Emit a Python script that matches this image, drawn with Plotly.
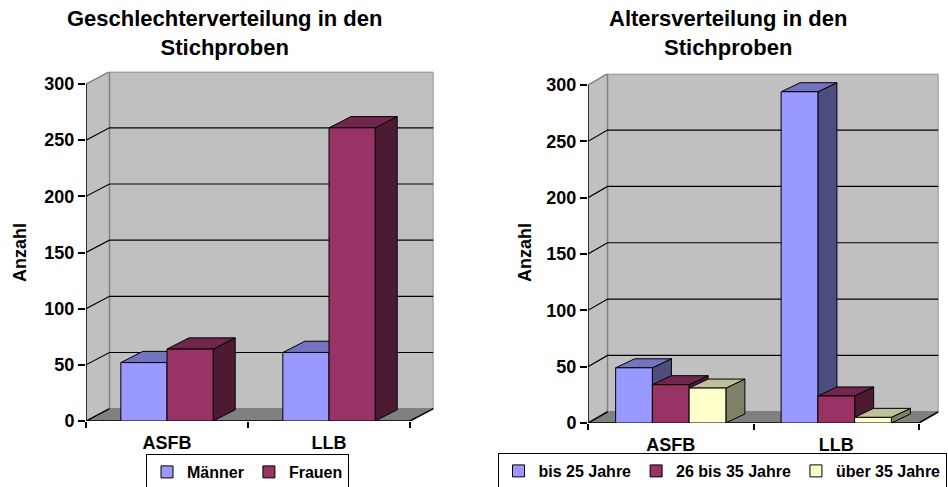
import plotly.graph_objects as go

# ---------------- data ----------------
categories = ["ASFB", "LLB"]
gender_names = ["Männer", "Frauen"]
gender_values = [[52, 61], [64, 261]]
age_names = ["bis 25 Jahre", "26 bis 35 Jahre", "über 35 Jahre"]
age_values = [[49, 294], [34, 24], [31, 5]]
y_ticks = [0, 50, 100, 150, 200, 250, 300]
title_left = "Geschlechterverteilung in den<br>Stichproben"
title_right = "Altersverteilung in den<br>Stichproben"
y_title = "Anzahl"

# ---------------- styles ----------------
FONT = "Liberation Sans, Arial, sans-serif"
WALL = "#C0C0C0"
WALL_EDGE = "#808080"
FLOOR = "#808080"
gender_colors = [("#9999FF", "#7373BF", "#4D4D80"), ("#993366", "#73264D", "#4D1A33")]
age_colors = [("#9999FF", "#7373BF", "#4D4D80"), ("#993366", "#73264D", "#4D1A33"),
              ("#FFFFCC", "#BFBF99", "#808066")]

fig = go.Figure()


def poly(xs, ys, fill, xa, ya, line_color="black", line_width=1):
    fig.add_trace(go.Scatter(
        x=xs + [xs[0]], y=ys + [ys[0]], mode="lines", fill="toself", fillcolor=fill,
        line=dict(color=line_color, width=line_width), hoverinfo="skip", showlegend=False,
        xaxis=xa, yaxis=ya))


def lines(xs, ys, color, width, xa, ya):
    fig.add_trace(go.Scatter(x=xs, y=ys, mode="lines", line=dict(color=color, width=width),
                             hoverinfo="skip", showlegend=False, xaxis=xa, yaxis=ya))


def panel(names, values, colors, xa, ya, xo, yo, legend, bar_w, wdx, wdy, bdx, bdy):
    n_cat = len(categories)
    ytop = y_ticks[-1]
    # side wall
    poly([0, 0, wdx, wdx], [0, ytop, ytop + wdy, wdy], WALL, xa, ya, WALL, 0)
    # back wall
    poly([wdx, wdx, n_cat + wdx, n_cat + wdx], [wdy, ytop + wdy, ytop + wdy, wdy],
         WALL, xa, ya, WALL_EDGE, 1.5)
    lines([0, wdx], [ytop, ytop + wdy], WALL_EDGE, 1.5, xa, ya)
    # floor
    poly([0, n_cat, n_cat + wdx, wdx], [0, 0, wdy, wdy], FLOOR, xa, ya, FLOOR, 0)
    # gridlines
    gx, gy = [], []
    for t in y_ticks[1:-1]:
        gx += [0, wdx, n_cat + wdx, None]
        gy += [t, t + wdy, t + wdy, None]
    lines(gx, gy, "black", 1.2, xa, ya)
    # axis lines
    lines([0, 0], [0, ytop], "black", 1.5, xa, ya)
    lines([wdx, 0, n_cat, n_cat + wdx], [wdy, 0, 0, wdy], "black", 1.5, xa, ya)

    k = len(names)
    offsets = [-bar_w * k / 2 + i * bar_w for i in range(k)]
    centers = [i + 0.5 for i in range(n_cat)]
    # 3D faces (top, side), painted left to right
    for c in range(n_cat):
        for s in range(k):
            v = values[s][c]
            L = centers[c] + offsets[s]
            R = L + bar_w
            _, top_c, side_c = colors[s]
            poly([R, R + bdx, R + bdx, R], [0, bdy, v + bdy, v], side_c, xa, ya)
            poly([L, R, R + bdx, L + bdx], [v, v, v + bdy, v + bdy], top_c, xa, ya)
    # front faces as bars on overlay axes
    for s in range(k):
        fig.add_trace(go.Bar(
            x=centers, y=values[s], width=bar_w, offset=offsets[s], name=names[s],
            marker=dict(color=colors[s][0], line=dict(color="black", width=1)),
            xaxis=xo, yaxis=yo, legend=legend, hoverinfo="skip"))


# panel geometry (depth of walls and bars)
L_WDX, L_WDY = 0.145, 11
R_WDX, R_WDY = 0.118, 10
panel(gender_names, gender_values, gender_colors, "x", "y", "x2", "y2", "legend",
      0.285, L_WDX, L_WDY, 0.136, 10)
panel(age_names, age_values, age_colors, "x3", "y3", "x4", "y4", "legend2",
      0.222, R_WDX, R_WDY, 0.115, 8)

tickfont = dict(family=FONT, size=18, color="black", weight="bold")
H = 487.0
W = 948.0


def base_axes(xdom, ydom, wdx, wdy):
    xa = dict(domain=xdom, range=[0, 2 + wdx], tickvals=[0, 1, 2], ticks="outside",
              ticklen=6, tickcolor="black", tickwidth=1.5, showticklabels=False,
              showgrid=False, zeroline=False, showline=False, fixedrange=True)
    ya = dict(domain=ydom, range=[0, y_ticks[-1] + wdy], tickvals=y_ticks, ticks="outside",
              ticklen=7, tickcolor="black", tickwidth=1.5, tickfont=tickfont,
              showgrid=False, zeroline=False, showline=False, fixedrange=True)
    return xa, ya


def overlay_axes(base_x, base_y, wdx, wdy, yname, xname):
    xo = dict(overlaying=base_x, anchor=yname, range=[0, 2 + wdx], tickvals=[0.5, 1.5],
              ticktext=categories, ticks="outside", ticklen=5, tickcolor="rgba(0,0,0,0)",
              tickfont=tickfont, showgrid=False, zeroline=False, showline=False,
              fixedrange=True)
    yo = dict(overlaying=base_y, anchor=xname, range=[0, y_ticks[-1] + wdy], visible=False,
              fixedrange=True)
    return xo, yo


lx_dom = [86 / W, (86 + 162 * (2 + L_WDX)) / W]
ly_dom = [(H - 421) / H, (H - 421 + 1.1233 * (300 + L_WDY)) / H]
rx_dom = [588 / W, (588 + 165.5 * (2 + R_WDX)) / W]
ry_dom = [(H - 423) / H, (H - 423 + 1.1267 * (300 + R_WDY)) / H]

xa1, ya1 = base_axes(lx_dom, ly_dom, L_WDX, L_WDY)
xa3, ya3 = base_axes(rx_dom, ry_dom, R_WDX, R_WDY)
xa3["anchor"] = "y3"
ya3["anchor"] = "x3"
xa2, ya2 = overlay_axes("x", "y", L_WDX, L_WDY, "y2", "x2")
xa4, ya4 = overlay_axes("x3", "y3", R_WDX, R_WDY, "y4", "x4")

legend_common = dict(orientation="h", xanchor="center", yanchor="top",
                     bordercolor="black", borderwidth=1, bgcolor="white",
                     font=dict(family=FONT, size=16, color="black", weight="bold"))

title_font = dict(family=FONT, size=22, color="black", weight="bold")
axis_title_font = dict(family=FONT, size=18, color="black", weight="bold")

fig.update_layout(
    width=948, height=487, margin=dict(l=0, r=0, t=0, b=0, autoexpand=False),
    paper_bgcolor="white", plot_bgcolor="rgba(0,0,0,0)",
    barmode="overlay", showlegend=True,
    xaxis=xa1, yaxis=ya1, xaxis2=xa2, yaxis2=ya2,
    xaxis3=xa3, yaxis3=ya3, xaxis4=xa4, yaxis4=ya4,
    legend=dict(x=247.5 / W, y=(H - 454) / H, **legend_common),
    legend2=dict(x=722 / W, y=(H - 453) / H, **legend_common),
    annotations=[
        dict(text=title_left, x=224 / W, y=(H - 4) / H, xref="paper", yref="paper",
             xanchor="center", yanchor="top", showarrow=False, font=title_font),
        dict(text=title_right, x=728 / W, y=(H - 4) / H, xref="paper", yref="paper",
             xanchor="center", yanchor="top", showarrow=False, font=title_font),
        dict(text=y_title, x=20 / W, y=(H - 253) / H, xref="paper", yref="paper",
             xanchor="center", yanchor="middle", textangle=-90, showarrow=False,
             font=axis_title_font),
        dict(text=y_title, x=525 / W, y=(H - 253) / H, xref="paper", yref="paper",
             xanchor="center", yanchor="middle", textangle=-90, showarrow=False,
             font=axis_title_font),
    ],
)

fig.write_html("out.html", config={"displayModeBar": False})
